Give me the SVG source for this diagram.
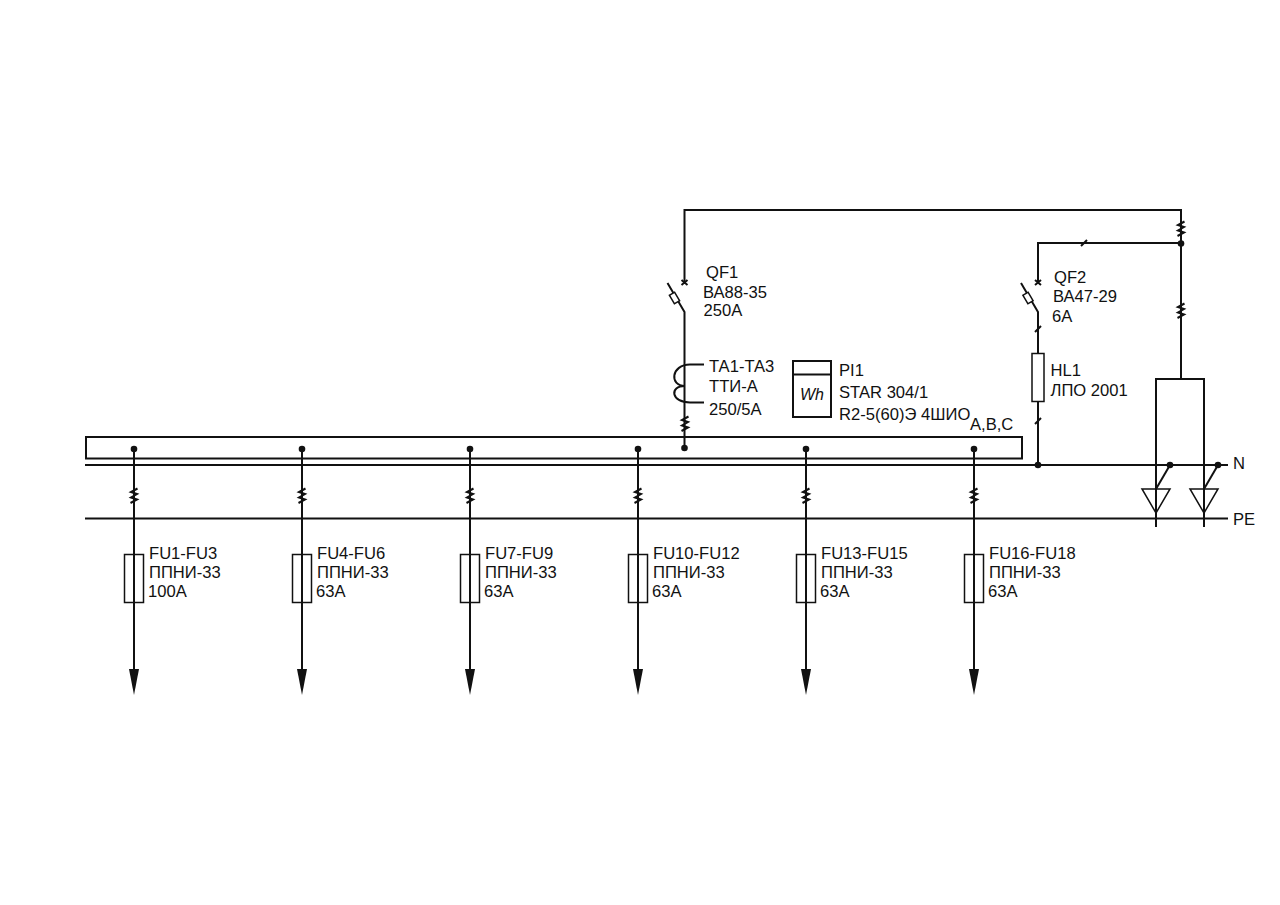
<svg xmlns="http://www.w3.org/2000/svg" xmlns:xlink="http://www.w3.org/1999/xlink" width="1280" height="905" viewBox="0 0 1280 905">
<style>
.l{fill:none;stroke:#111;stroke-width:2}
.t{fill:none;stroke:#111;stroke-width:1.500}
.z{fill:none;stroke:#111;stroke-width:2}
.w{fill:#fff;stroke:#111;stroke-width:1.500}
.d{fill:#111;stroke:none}
text{font-family:"Liberation Sans",Arial,sans-serif;font-size:16.600px;fill:#111}
</style>
<defs>
<path id="m3" class="z" d="M3.500 -7.500L-3 -4L3 -2L-3 1.500L3 3.500L-3.500 7"/>
<path id="m1" class="z" d="M-3 3L3 -3"/>
<path id="x" class="z" d="M-3 -2.500L3 2.500M-3 2.500L3 -2.500"/>
<g id="feeder">
<circle class="d" cx="0" cy="449" r="3.300"/>
<path class="l" d="M0 449V672"/>
<use xlink:href="#m3" href="#m3" y="496"/>
<rect class="t" x="-9.500" y="554.500" width="19" height="48"/>
<path class="d" d="M-5 669H5L0 695Z"/>
</g>
<g id="lamp">
<path class="t" d="M-14 489H14L0 513Z"/>
<path class="l" d="M0 489L14 465"/>
<circle class="d" cx="14" cy="465" r="3.300"/>
</g>
</defs>
<g id="connectors">
<path class="l" d="M85 465H1228M85 518.500H1228"/>
<path class="l" d="M684.500 282V210H1181V379M1181 243H1038V283"/>
<path class="l" d="M684.500 316V449M1038 313V465M1156 527V379H1204V527"/>
<use xlink:href="#m3" href="#m3" x="1181" y="229"/>
<use xlink:href="#m3" href="#m3" x="1181" y="311"/>
<use xlink:href="#m3" href="#m3" x="685" y="424"/>
<use xlink:href="#m1" href="#m1" x="1084" y="243"/>
<use xlink:href="#m1" href="#m1" x="1038" y="329"/>
<use xlink:href="#m1" href="#m1" x="1038" y="421"/>
<circle class="d" cx="1181" cy="243.500" r="3.300"/>
<circle class="d" cx="1038" cy="465" r="3.300"/>
<circle class="d" cx="684.500" cy="448" r="3.300"/>
</g>
<g id="bus"><rect class="l" x="86" y="437" width="936" height="21.500"/></g>
<g id="feeder1"><use xlink:href="#feeder" href="#feeder" x="134"/><text x="149" y="558.500">FU1-FU3</text><text x="149" y="577.500">ППНИ-33</text><text x="148" y="596.500">100А</text></g>
<g id="feeder2"><use xlink:href="#feeder" href="#feeder" x="302"/><text x="317" y="558.500">FU4-FU6</text><text x="317" y="577.500">ППНИ-33</text><text x="316" y="596.500">63А</text></g>
<g id="feeder3"><use xlink:href="#feeder" href="#feeder" x="470"/><text x="485" y="558.500">FU7-FU9</text><text x="485" y="577.500">ППНИ-33</text><text x="484" y="596.500">63А</text></g>
<g id="feeder4"><use xlink:href="#feeder" href="#feeder" x="638"/><text x="653" y="558.500">FU10-FU12</text><text x="653" y="577.500">ППНИ-33</text><text x="652" y="596.500">63А</text></g>
<g id="feeder5"><use xlink:href="#feeder" href="#feeder" x="806"/><text x="821" y="558.500">FU13-FU15</text><text x="821" y="577.500">ППНИ-33</text><text x="820" y="596.500">63А</text></g>
<g id="feeder6"><use xlink:href="#feeder" href="#feeder" x="974"/><text x="989" y="558.500">FU16-FU18</text><text x="989" y="577.500">ППНИ-33</text><text x="988" y="596.500">63А</text></g>
<g id="QF1">
<use xlink:href="#x" href="#x" x="684.500" y="282.500"/>
<path class="l" d="M667.500 283L684.500 312V316"/>
<rect class="w" x="-3" y="-5" width="6" height="10" transform="translate(674.500 298) rotate(-30)"/>
<text x="706" y="278">QF1</text><text x="703" y="298">ВА88-35</text><text x="703.500" y="316">250А</text>
</g>
<g id="TA1">
<path class="l" d="M704 364.500H690C671 364.500 669 386 685 386C669 386 671 402.500 690 402.500H704"/>
<text x="709" y="372">ТА1-ТА3</text><text x="709" y="392">ТТИ-А</text><text x="709" y="415">250/5А</text>
</g>
<g id="PI1">
<rect class="l" x="793" y="361" width="38" height="56"/>
<path class="l" d="M793 374.500H831"/>
<text x="800" y="400" font-style="italic" style="font-size:16px">Wh</text>
<text x="839" y="376">PI1</text><text x="839" y="398">STAR 304/1</text><text x="839" y="420">R2-5(60)Э 4ШИО</text><text x="970" y="430">А,В,С</text>
</g>
<g id="QF2">
<use xlink:href="#x" href="#x" x="1038" y="282.500"/>
<path class="l" d="M1021 283L1038 312V316"/>
<rect class="w" x="-3" y="-5" width="6" height="10" transform="translate(1028 298) rotate(-30)"/>
<text x="1054" y="283">QF2</text><text x="1053" y="302">ВА47-29</text><text x="1052" y="322">6А</text>
</g>
<g id="HL1">
<rect class="w" x="1032" y="353.500" width="12" height="48"/>
<text x="1050.500" y="376">HL1</text><text x="1050.500" y="396">ЛПО 2001</text>
</g>
<g id="lamp1"><use xlink:href="#lamp" href="#lamp" x="1156"/></g>
<g id="lamp2"><use xlink:href="#lamp" href="#lamp" x="1204"/></g>
<g id="labels"><text x="1233" y="469">N</text><text x="1233" y="525">PE</text></g>
</svg>
